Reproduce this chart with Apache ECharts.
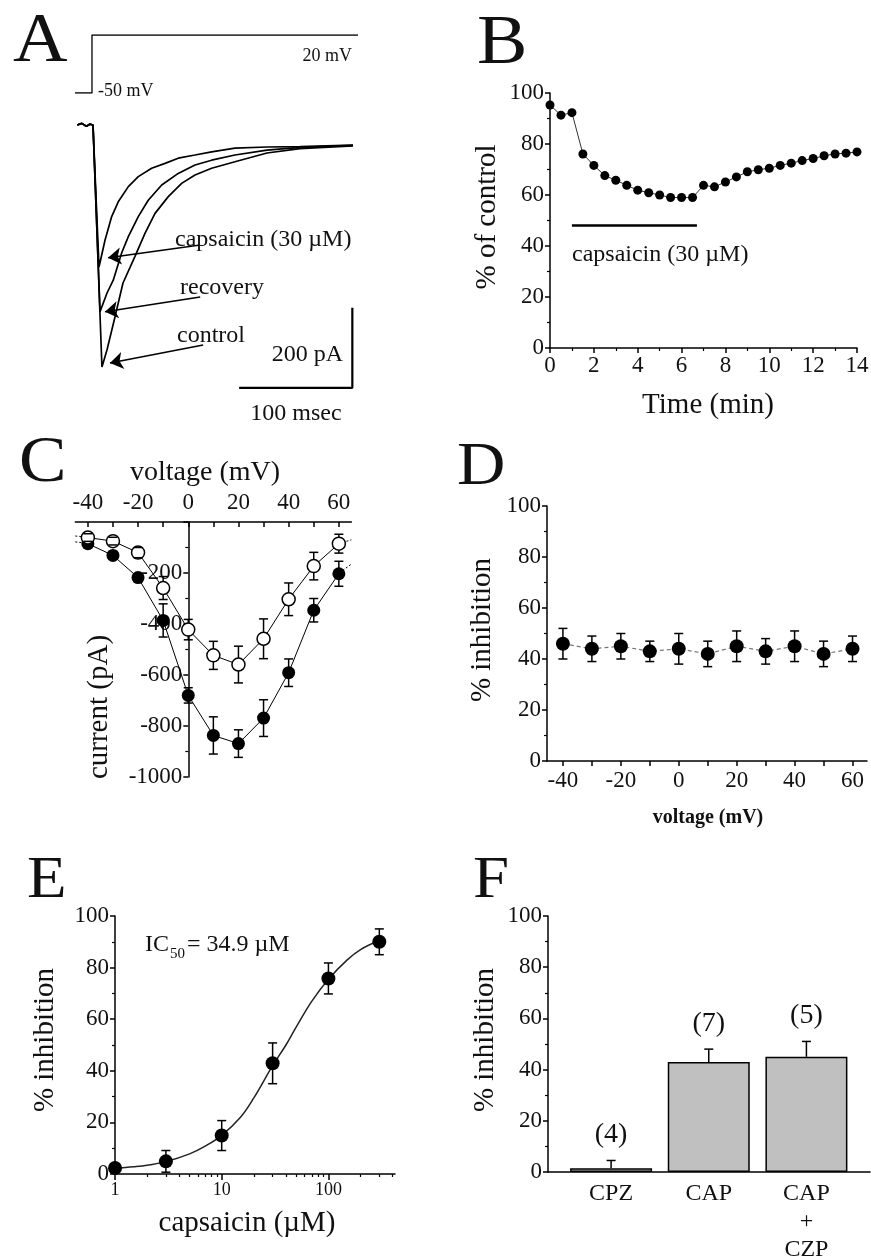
<!DOCTYPE html>
<html><head><meta charset="utf-8">
<script src="https://cdn.jsdelivr.net/npm/echarts@6/dist/echarts.min.js"></script>
<style>html,body{margin:0;padding:0;background:#fff}#c{width:871px;height:1259px}</style>
</head><body><div id="c"></div>
<script>
// ---------- Panel A : voltage protocol ----------
const vStepT = [-15, 0, 0, 235];
const vStepV = [-50, -50, 20, 20];
// ---------- Panel A : current traces (ms, pA) ----------
const capT = [-13,-9,-5,-2,0.9,6.2,11.5,17.4,23.2,32.1,40.9,52.7,64.5,76.2,91,105.7,126.3,154.6,183.7,230.6];
const capI = [0,4,-3,2,0,-355,-288,-229,-192,-154,-129,-108,-96,-83,-75,-67,-58,-55,-54,-50];
const recT = [-13,-9,-5,-2,0.9,7.1,13.3,18.8,26.2,32.1,40.9,49.7,61.6,76.2,91,105.7,126.3,154.6,183.7,230.6];
const recI = [0,4,-3,2,0,-467,-420,-388,-320,-279,-229,-188,-150,-121,-100,-88,-75,-63,-56,-51];
const conT = [-13,-9,-5,-2,0.9,8.8,13.3,20.3,27.4,37.9,46.8,55.7,67.4,79.2,91,105.7,126.3,154.6,183.7,230.6];
const conI = [0,4,-3,2,0,-605,-562,-480,-395,-329,-271,-221,-179,-146,-125,-108,-92,-70,-59,-52];
const scaleBarT = [130, 230, 230];
const scaleBarI = [-657, -657, -457];
const arrowFrom = [[95.6,-300],[95.6,-430],[98.2,-550]];
const arrowTo   = [[14.2,-332],[11.5,-467],[15.9,-595]];
// ---------- Panel B ----------
const bTime = [0,0.5,1,1.5,2,2.5,3,3.5,4,4.5,5,5.5,6,6.5,7,7.5,8,8.5,9,9.5,10,10.5,11,11.5,12,12.5,13,13.5,14];
const bVal  = [95.3,91.3,92.3,76.1,71.6,67.6,65.8,63.8,61.9,60.9,60.0,59.0,59.0,59.0,63.8,63.2,65.1,67.1,69.1,69.9,70.5,71.6,72.5,73.5,74.3,75.4,76.1,76.4,76.9];
const bBarT = [1, 6.7];
const bBarV = [48, 48];
// ---------- Panel C ----------
const cVolt = [-40,-30,-20,-10,0,10,20,30,40,50,60];
const cControl = [-85,-131,-218,-386,-680,-837,-869,-769,-591,-346,-203];
const cControlErr = [10,15,15,65,30,73,54,72,54,46,49];
const cCap = [-61,-75,-120,-259,-422,-523,-559,-458,-303,-173,-85];
const cCapErr = [15,15,20,45,40,55,72,78,64,54,37];
const cTailCtrlL = [[-45,-78],[-41.5,-82]];
const cTailCapL  = [[-45,-55],[-41.5,-58]];
const cTailCtrlR = [[61.5,-190],[65,-165]];
const cTailCapR  = [[61.5,-80],[65,-70]];
const cXTicks = [-40,-30,-20,-10,0,10,20,30,40,50,60];
const cXLabels = [-40,-20,0,20,40,60];
// ---------- Panel D ----------
const dVolt = [-40,-30,-20,-10,0,10,20,30,40,50,60];
const dVal = [46,44,45,43,44,42,45,43,45,42,44];
const dErr = [6,5,5,4,6,5,6,5,6,5,5];
// ---------- Panel E ----------
const eConc = [1,3,10,30,100,300];
const eVal  = [2.3,4.9,14.9,42.9,75.8,90.0];
const eErr  = [0,4.2,5.8,7.9,6,5];
const eFitConc = [1,1.5,2,3,5,7,10,15,20,30,40,50,70,100,150,200,300];
const eFitVal  = [2.2,2.8,3.4,4.8,7.8,10.8,15,22,29.5,42,50,57,67,75.5,83,87,90.5];
const eMajor = [1,10,100];
const eMinor = [2,3,4,5,6,7,8,9,20,30,40,50,60,70,80,90,200,300,400];
// ---------- Panel F ----------
const fCats = ['CPZ','CAP','CAP\n+\nCZP'];
const fVal = [1.5,43,45];
const fErr = [3,5,6];
const fN = ['(4)','(7)','(5)'];

const FONT = 'Liberation Serif';
const TXT = '#111';
const zip = (a,b) => a.map((v,i)=>[v,b[i]]);
const lg = Math.log10;

// mode: 'all' | 'stem' | 'caps'
function errSeries(xi, yi, data, capW, upperOnly, z, mode) {
  mode = mode || 'all';
  return {
    type:'custom', xAxisIndex:xi, yAxisIndex:yi, data:data, z:z||3, clip:false,
    encode:{x:0, y:[1,2]},
    renderItem:function(params, api){
      const x=api.value(0), lo=api.value(1), hi=api.value(2);
      const a=api.coord([x,lo]), b=api.coord([x,hi]); const w=capW/2;
      const st={stroke:'#000', lineWidth:1.5};
      const ch=[];
      if (mode !== 'caps') ch.push({type:'line',shape:{x1:a[0],y1:a[1],x2:b[0],y2:b[1]},style:st});
      if (mode !== 'stem') {
        ch.push({type:'line',shape:{x1:b[0]-w,y1:b[1],x2:b[0]+w,y2:b[1]},style:st});
        if(!upperOnly) ch.push({type:'line',shape:{x1:a[0]-w,y1:a[1],x2:a[0]+w,y2:a[1]},style:st});
      }
      return {type:'group', children:ch};
    }
  };
}
const AL = {color:'#000', width:1.5};
function ax(o){
  return Object.assign({
    type:'value', splitLine:{show:false},
    axisLine:{show:true, onZero:false, lineStyle:AL},
    axisTick:{show:true, length:5, lineStyle:{color:'#000', width:1.5}},
    axisLabel:{fontFamily:FONT, fontSize:23, color:TXT, margin:6}
  }, o);
}
const minor = {show:true, splitNumber:2, length:3, lineStyle:{color:'#000', width:1.2}};

function txt(t, x, y, size, align, opts){
  const rot = opts && opts.rot;
  const el = {type:'text', z:100,
    x: rot ? x + 2 : x,
    y: rot ? y : y + 0.12*size,
    style:{text:t, fill:TXT, fontSize:size, fontFamily:FONT, textAlign:align||'left',
      textVerticalAlign:'middle', verticalAlign:'middle', fontWeight:(opts&&opts.bold)?'bold':'normal'}};
  if (rot) el.rotation = Math.PI/2;
  if (opts && opts.sx) el.scaleX = opts.sx;
  return el;
}
function letter(t, x, b, s){ return txt(t, x, b - 0.4575*s, s, 'left', {sx:1.08}); }

const cCapErrData = cVolt.map((v,i)=>[v, cCap[i]-cCapErr[i], cCap[i]+cCapErr[i]]);

const option = {
  animation:false,
  textStyle:{fontFamily:FONT},
  grid:[
    {left:75, top:35, width:283, height:58, outerBoundsMode:'none'},
    {left:75, top:105, width:283, height:300, outerBoundsMode:'none'},
    {left:550, top:93, width:307, height:255, outerBoundsMode:'none'},
    {left:75.3, top:522, width:276.1, height:255, outerBoundsMode:'none'},
    {left:547, top:506, width:320, height:255, outerBoundsMode:'none'},
    {left:115, top:916, width:280, height:258, outerBoundsMode:'none'},
    {left:548, top:916, width:322, height:256, outerBoundsMode:'none'}
  ],
  xAxis:[
    {gridIndex:0, type:'value', min:-15, max:235, show:false},
    {gridIndex:1, type:'value', min:-15, max:235, show:false},
    ax({gridIndex:2, min:0, max:14, interval:2, minorTick:minor}),
    ax({gridIndex:3, min:-45, max:65, position:'top',
        axisTick:{show:true, inside:true, length:5, customValues:cXTicks, lineStyle:{color:'#000',width:1.5}},
        axisLabel:{fontFamily:FONT, fontSize:23, color:TXT, margin:8, customValues:cXLabels}}),
    ax({gridIndex:4, min:-45.5, max:65,
        axisTick:{show:true, length:5, customValues:dVolt, lineStyle:{color:'#000',width:1.5}},
        axisLabel:{fontFamily:FONT, fontSize:23, color:TXT, margin:8, customValues:[-40,-20,0,20,40,60]}}),
    ax({gridIndex:5, min:0, max:2.624, position:'bottom',
        axisTick:{show:true, length:6, customValues:eMajor.map(lg), lineStyle:{color:'#000',width:1.5}},
        axisLabel:{fontFamily:FONT, fontSize:18, color:TXT, margin:7, customValues:eMajor.map(lg),
          formatter:function(v){return String(Math.round(Math.pow(10,v)));}}}),
    {gridIndex:5, type:'value', min:0, max:2.624, position:'bottom', splitLine:{show:false},
        axisLine:{show:false}, axisLabel:{show:false},
        axisTick:{show:true, length:3, customValues:eMinor.map(lg), lineStyle:{color:'#000',width:1.2}}},
    ax({gridIndex:6, min:0.354, max:3.651,
        axisTick:{show:false},
        axisLabel:{fontFamily:FONT, fontSize:24, color:TXT, margin:8, lineHeight:28, customValues:[1,2,3],
          formatter:function(v){return fCats[Math.round(v)-1];}}})
  ],
  yAxis:[
    {gridIndex:0, type:'value', min:-50, max:20, show:false},
    {gridIndex:1, type:'value', min:-700, max:50, show:false},
    ax({gridIndex:2, min:0, max:100, interval:20, minorTick:minor}),
    ax({gridIndex:3, min:-1000, max:0, interval:200, minorTick:minor, position:'left', offset:-113,
        axisLabel:{fontFamily:FONT, fontSize:23, color:TXT, margin:6,
          formatter:function(v){return v===0?'':String(v);}}}),
    ax({gridIndex:4, min:0, max:100, interval:20, minorTick:minor}),
    ax({gridIndex:5, min:0, max:100, interval:20, minorTick:minor}),
    ax({gridIndex:6, min:0, max:100, interval:20, minorTick:minor})
  ],
  series:[
    // A
    {type:'line', xAxisIndex:0, yAxisIndex:0, data:zip(vStepT,vStepV), symbol:'none', lineStyle:{color:'#000',width:1.3}},
    {type:'line', xAxisIndex:1, yAxisIndex:1, data:zip(conT,conI), symbol:'none', lineStyle:{color:'#000',width:1.7}},
    {type:'line', xAxisIndex:1, yAxisIndex:1, data:zip(recT,recI), symbol:'none', lineStyle:{color:'#000',width:1.7}},
    {type:'line', xAxisIndex:1, yAxisIndex:1, data:zip(capT,capI), symbol:'none', lineStyle:{color:'#000',width:1.7}},
    {type:'line', xAxisIndex:1, yAxisIndex:1, data:zip(scaleBarT,scaleBarI), symbol:'none', lineStyle:{color:'#000',width:2.2}},
    {type:'lines', coordinateSystem:'cartesian2d', xAxisIndex:1, yAxisIndex:1,
      symbol:['none','arrow'], symbolSize:[9,13],
      lineStyle:{color:'#000', width:1.6, opacity:1},
      data:arrowFrom.map((f,i)=>({coords:[f, arrowTo[i]]}))},
    // B
    {type:'line', xAxisIndex:2, yAxisIndex:2, data:zip(bTime,bVal), symbol:'circle', symbolSize:9,
      itemStyle:{color:'#000'}, lineStyle:{color:'#333', width:1}, clip:false},
    {type:'line', xAxisIndex:2, yAxisIndex:2, data:zip(bBarT,bBarV), symbol:'none', lineStyle:{color:'#000', width:2.5}},
    // C
    {type:'line', xAxisIndex:3, yAxisIndex:3, data:cTailCtrlL, symbol:'none', lineStyle:{color:'#000',width:1,type:[2,2]}},
    {type:'line', xAxisIndex:3, yAxisIndex:3, data:cTailCapL, symbol:'none', lineStyle:{color:'#000',width:1,type:[2,2]}},
    {type:'line', xAxisIndex:3, yAxisIndex:3, data:cTailCtrlR, symbol:'none', lineStyle:{color:'#000',width:1,type:[2,2]}},
    {type:'line', xAxisIndex:3, yAxisIndex:3, data:cTailCapR, symbol:'none', lineStyle:{color:'#000',width:1,type:[2,2]}},
    errSeries(3,3, cVolt.map((v,i)=>[v, cControl[i]-cControlErr[i], cControl[i]+cControlErr[i]]), 9, false),
    errSeries(3,3, cCapErrData, 9, false, 3, 'stem'),
    {type:'line', xAxisIndex:3, yAxisIndex:3, data:zip(cVolt,cControl), symbol:'circle', symbolSize:13, z:5, clip:false,
      itemStyle:{color:'#000'}, lineStyle:{color:'#000', width:1}},
    {type:'line', xAxisIndex:3, yAxisIndex:3, data:zip(cVolt,cCap), symbol:'circle', symbolSize:13, z:5, clip:false,
      itemStyle:{color:'#fff', borderColor:'#000', borderWidth:1.5}, lineStyle:{color:'#000', width:1}},
    errSeries(3,3, cCapErrData, 9, false, 6, 'caps'),
    // D
    errSeries(4,4, dVolt.map((v,i)=>[v, dVal[i]-dErr[i], dVal[i]+dErr[i]]), 9, false),
    {type:'line', xAxisIndex:4, yAxisIndex:4, data:zip(dVolt,dVal), symbol:'circle', symbolSize:14, z:5,
      itemStyle:{color:'#000'}, lineStyle:{color:'#777', width:1.2, type:[4,3]}},
    // E
    {type:'line', xAxisIndex:5, yAxisIndex:5, data:eFitConc.map((c,i)=>[lg(c), eFitVal[i]]), symbol:'none',
      smooth:0.4, lineStyle:{color:'#222', width:1.5}},
    errSeries(5,5, eConc.map((c,i)=>[lg(c), eVal[i]-eErr[i], eVal[i]+eErr[i]]), 9, false),
    {type:'scatter', xAxisIndex:5, yAxisIndex:5, data:eConc.map((c,i)=>[lg(c), eVal[i]]), symbolSize:14, z:5, clip:false,
      itemStyle:{color:'#000', opacity:1}},
    // F
    {type:'bar', xAxisIndex:7, yAxisIndex:6, data:fVal.map((v,i)=>[i+1, v]), barWidth:82,
      itemStyle:{color:'#c0c0c0', borderColor:'#000', borderWidth:1.5}},
    errSeries(7,6, fVal.map((v,i)=>[i+1, v, v+fErr[i]]), 9, true),
    {type:'scatter', xAxisIndex:7, yAxisIndex:6, data:fVal.map((v,i)=>[i+1, v+fErr[i]]), symbolSize:1,
      itemStyle:{color:'rgba(0,0,0,0)'},
      label:{show:true, position:'top', distance:11, color:TXT, fontFamily:FONT, fontSize:28, opacity:1,
        formatter:function(p){return fN[p.dataIndex];}}}
  ],
  graphic:[
    letter('A', 13, 66.7, 70), letter('B', 477, 68.3, 70), letter('C', 19, 486, 66),
    letter('D', 457, 488.3, 62), letter('E', 27, 901.7, 60), letter('F', 473, 901.7, 60),
    // A annotations
    txt('20 mV', 352, 54, 18, 'right'),
    txt('-50 mV', 98, 89, 18, 'left'),
    txt('capsaicin (30 \u00b5M)', 175, 237, 24, 'left'),
    txt('recovery', 180, 285, 24, 'left'),
    txt('control', 177, 333, 24, 'left'),
    txt('200 pA', 343, 352, 24, 'right'),
    txt('100 msec', 296, 411, 24, 'center'),
    // B
    txt('capsaicin (30 \u00b5M)', 572, 252, 24, 'left'),
    txt('Time (min)', 708, 402, 29, 'center'),
    txt('% of control', 485, 217, 29, 'center', {rot:true}),
    // C
    txt('voltage (mV)', 205, 469, 28, 'center'),
    txt('current (pA)', 97, 707, 29, 'center', {rot:true}),
    // D
    txt('voltage (mV)', 708, 815, 20, 'center', {bold:true}),
    txt('% inhibition', 480, 630, 29, 'center', {rot:true}),
    // E
    txt('IC', 145, 942, 24, 'left'),
    txt('50', 170, 952, 15, 'left'),
    txt('= 34.9 \u00b5M', 187, 942, 24, 'left'),
    txt('capsaicin (\u00b5M)', 247, 1220, 29, 'center'),
    txt('% inhibition', 43, 1040, 29, 'center', {rot:true}),
    // F
    txt('% inhibition', 483, 1040, 29, 'center', {rot:true})
  ]
};
const chart = echarts.init(document.getElementById('c'), null, {renderer:'canvas'});
chart.setOption(option);
</script></body></html>
